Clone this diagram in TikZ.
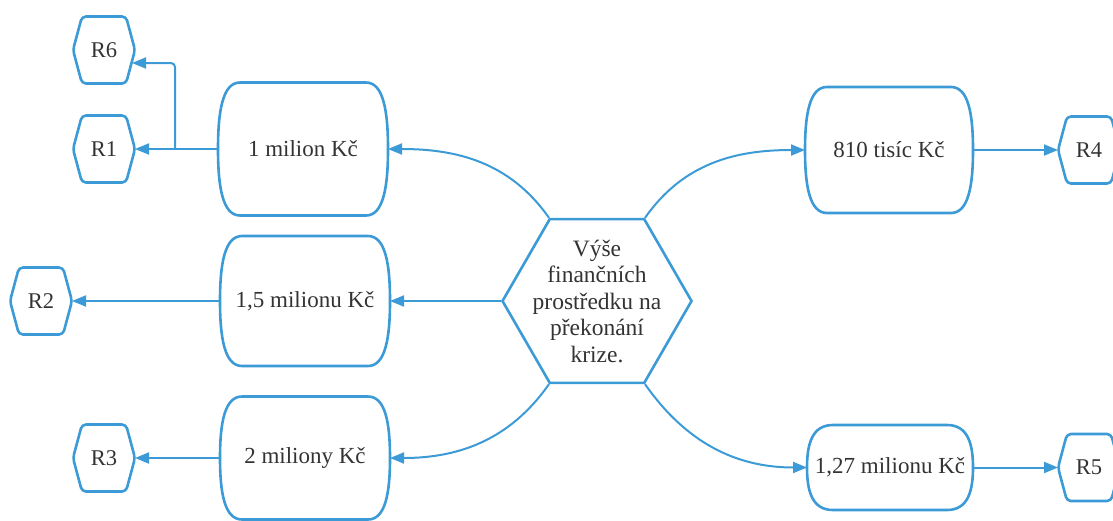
\documentclass[tikz,border=0pt]{standalone}
\usepackage{fontspec}
\setmainfont{Liberation Serif}
\usetikzlibrary{shapes.geometric,arrows.meta,calc}
\definecolor{blu}{HTML}{3C9BD6}
\definecolor{txt}{HTML}{333333}
\tikzset{
  shapeline/.style={draw=blu, line width=2.6pt, line join=round},
  conn/.style={draw=blu, line width=2pt, -{Triangle[length=14pt,width=11pt]}},
  boxtxt/.style={inner sep=0pt, outer sep=0pt, text=txt, font=\fontsize{23}{26.5}\selectfont},
  hextxt/.style={inner sep=0pt, outer sep=0pt, minimum width=62pt, minimum height=67pt, text=txt, font=\fontsize{22.5}{26.5}\selectfont},
  bighex/.style={regular polygon, regular polygon sides=6, minimum size=189pt, inner sep=0pt, draw=blu, line width=2.6pt},
  ctext/.style={align=center, text=txt, font=\fontsize{23.5}{26.5}\selectfont, inner sep=0pt}
}
% capsule box: name, cx, cy, w, h, a, text
\newcommand\capsule[7]{%
  \node[boxtxt, minimum width=#4pt, minimum height=#5pt] (#1) at (#2,-#3) {#7};
  \draw[shapeline] ([xshift=#6pt]#1.north west) -- ([xshift=-#6pt]#1.north east)
    .. controls ([xshift={-0.2*#6pt}]#1.north east) and ([yshift={-0.22*#5pt}]#1.north east) .. (#1.east)
    .. controls ([yshift={0.22*#5pt}]#1.south east) and ([xshift={-0.2*#6pt}]#1.south east) .. ([xshift=-#6pt]#1.south east)
    -- ([xshift=#6pt]#1.south west)
    .. controls ([xshift={0.2*#6pt}]#1.south west) and ([yshift={0.22*#5pt}]#1.south west) .. (#1.west)
    .. controls ([yshift={-0.22*#5pt}]#1.north west) and ([xshift={0.2*#6pt}]#1.north west) .. ([xshift=#6pt]#1.north west)
    -- cycle;}
% small hexagon: name, cx, cy, text
\newcommand\rhex[4]{%
  \node[hextxt] (#1) at (#2,-#3) {#4};
  \draw[shapeline, rounded corners=4pt] (#1.north) -- ([xshift=-9pt]#1.north east) -- (#1.east)
    -- ([xshift=-9pt]#1.south east) -- ([xshift=9pt]#1.south west) -- (#1.west)
    -- ([xshift=9pt]#1.north west) -- cycle;}
\begin{document}
\begin{tikzpicture}[x=1pt,y=1pt]
\useasboundingbox (0,0) rectangle (1113,-520);
% centre
\node[bighex] (c) at (597,-301) {};
\node[ctext] (ct) at (c) {Výše\\finančních\\prostředku na\\překonání\\krize.};
% boxes
\capsule{b1}{303}{149}{170}{133}{22}{1 milion Kč}
\capsule{b2}{305}{301}{170}{130}{22}{1,5 milionu Kč}
\capsule{b3}{305}{458}{170}{123}{22}{2 miliony Kč}
\capsule{b4}{889}{150}{168}{126}{22}{810 tisíc Kč}
\capsule{b5}{890}{467.5}{166}{85}{26}{1,27 milionu Kč}
% result hexagons
\rhex{R6}{104}{50}{R6}
\rhex{R1}{104}{149}{R1}
\rhex{R2}{41}{301}{R2}
\rhex{R3}{104}{458}{R3}
\rhex{R4}{1089}{150}{R4}
\rhex{R5}{1089}{467.5}{R5}
% connectors from centre
\draw[conn] (c.120) to[out=125, in=0] (b1.east);
\draw[conn] (c.180) -- (b2.east);
\draw[conn] (c.240) to[out=235, in=0] (b3.east);
\draw[conn] (c.60) to[out=55, in=180] (b4.west);
\draw[conn] (c.300) to[out=305, in=180] (b5.west);
% connectors to results
\draw[conn] (b1.west) -- (R1.east);
\coordinate (j6) at (175,-149);
\draw[conn, rounded corners=4pt] (j6) |- ([xshift=-3pt,yshift=-13pt]R6.east);
\draw[conn] (b2.west) -- (R2.east);
\draw[conn] (b3.west) -- (R3.east);
\draw[conn] (b4.east) -- (R4.west);
\draw[conn] (b5.east) -- (R5.west);
\end{tikzpicture}
\end{document}
